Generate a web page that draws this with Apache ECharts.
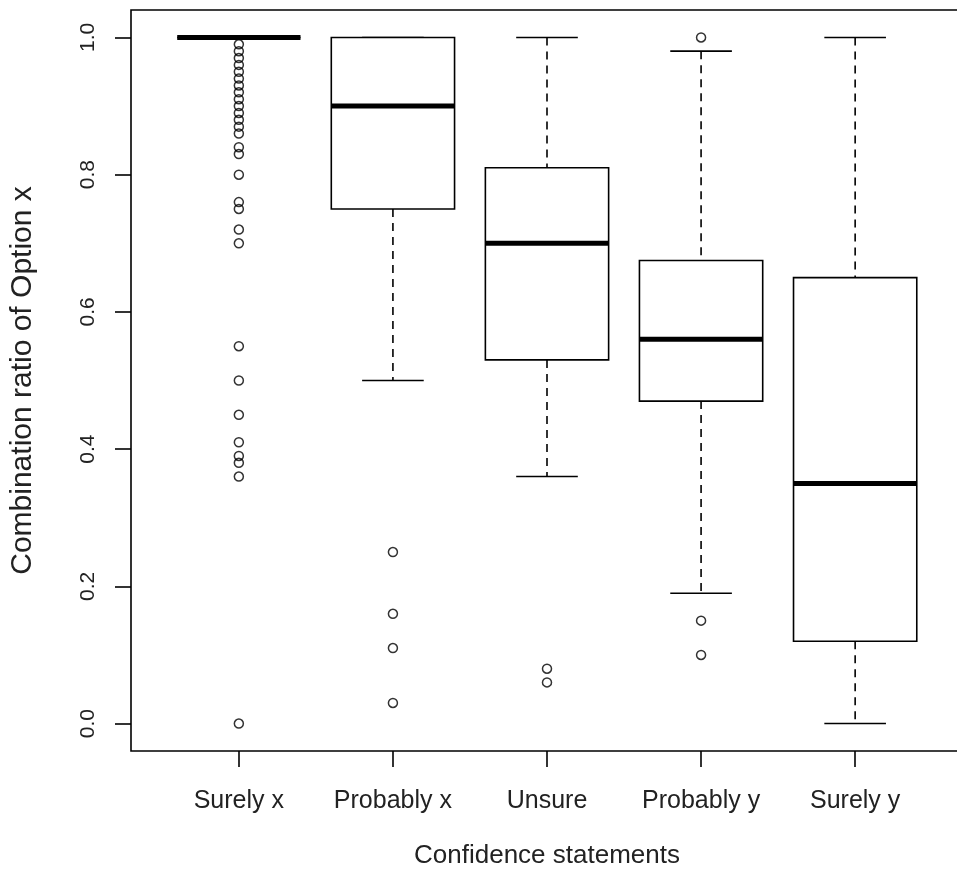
<!DOCTYPE html>
<html>
<head>
<meta charset="utf-8">
<title>Combination ratio boxplot</title>
<script src="https://cdn.jsdelivr.net/npm/echarts@6/dist/echarts.min.js"></script>
<style>
  html, body { margin: 0; padding: 0; background: #fff; }
  #chart { width: 957px; height: 877px; }
</style>
</head>
<body>
<div id="chart"></div>
<script>
// box statistics per confidence statement
const categories = ["Surely x", "Probably x", "Unsure", "Probably y", "Surely y"];
const lowerWhisker = [1.0, 0.5, 0.36, 0.19, 0.0];
const lowerQuartile = [1.0, 0.75, 0.53, 0.47, 0.12];
const medians = [1.0, 0.9, 0.7, 0.56, 0.35];
const upperQuartile = [1.0, 1.0, 0.81, 0.675, 0.65];
const upperWhisker = [1.0, 1.0, 1.0, 0.98, 1.0];

// outliers per category
const outliersSurelyX = [0.99, 0.98, 0.97, 0.96, 0.95, 0.94, 0.93, 0.92, 0.91, 0.90, 0.89, 0.88,
  0.87, 0.86, 0.84, 0.83, 0.80, 0.76, 0.75, 0.72, 0.70, 0.55, 0.50, 0.45, 0.41, 0.39, 0.38, 0.36, 0.0];
const outliersProbablyX = [0.25, 0.16, 0.11, 0.03];
const outliersUnsure = [0.08, 0.06];
const outliersProbablyY = [1.0, 0.15, 0.10];
const outliersSurelyY = [];

const yTicks = [0, 0.2, 0.4, 0.6, 0.8, 1.0];
const xTicks = [1, 2, 3, 4, 5];

const boxData = categories.map((c, i) => [
  i + 1, lowerWhisker[i], lowerQuartile[i], medians[i], upperQuartile[i], upperWhisker[i]
]);
const outlierData = [];
[outliersSurelyX, outliersProbablyX, outliersUnsure, outliersProbablyY, outliersSurelyY].forEach((arr, i) => {
  arr.forEach(v => outlierData.push([i + 1, v]));
});

const chart = echarts.init(document.getElementById("chart"));
const textColor = "#222";
const fontFamily = "Liberation Sans, Arial, sans-serif";

function renderBox(params, api) {
  const x = api.value(0);
  const lo = api.value(1), q1 = api.value(2), med = api.value(3), q3 = api.value(4), hi = api.value(5);
  const half = 0.4, cap = 0.2;
  const pTopLeft = api.coord([x - half, q3]);
  const pBotRight = api.coord([x + half, q1]);
  const pMedL = api.coord([x - half, med]);
  const pMedR = api.coord([x + half, med]);
  const pHi = api.coord([x, hi]);
  const pQ3 = api.coord([x, q3]);
  const pQ1 = api.coord([x, q1]);
  const pLo = api.coord([x, lo]);
  const capHiL = api.coord([x - cap, hi]);
  const capHiR = api.coord([x + cap, hi]);
  const capLoL = api.coord([x - cap, lo]);
  const capLoR = api.coord([x + cap, lo]);
  const solid = { stroke: "#000", lineWidth: 1.6, fill: null };
  const dashed = { stroke: "#000", lineWidth: 1.6, lineDash: [8, 6] };
  return {
    type: "group",
    children: [
      { type: "line", shape: { x1: pHi[0], y1: pHi[1], x2: pQ3[0], y2: pQ3[1] }, style: dashed },
      { type: "line", shape: { x1: pQ1[0], y1: pQ1[1], x2: pLo[0], y2: pLo[1] }, style: dashed },
      { type: "line", shape: { x1: capHiL[0], y1: capHiL[1], x2: capHiR[0], y2: capHiR[1] }, style: solid },
      { type: "line", shape: { x1: capLoL[0], y1: capLoL[1], x2: capLoR[0], y2: capLoR[1] }, style: solid },
      {
        type: "rect",
        shape: { x: pTopLeft[0], y: pTopLeft[1], width: pBotRight[0] - pTopLeft[0], height: pBotRight[1] - pTopLeft[1] },
        style: { stroke: "#000", lineWidth: 1.6, fill: "#fff" }
      },
      { type: "line", shape: { x1: pMedL[0], y1: pMedL[1], x2: pMedR[0], y2: pMedR[1] }, style: { stroke: "#000", lineWidth: 5 } }
    ]
  };
}

const option = {
  backgroundColor: "#fff",
  animation: false,
  grid: {
    left: 131,
    right: -6,
    top: 10,
    bottom: 126,
    outerBoundsMode: "none",
    containLabel: false,
    show: true,
    borderColor: "#000",
    borderWidth: 1.6,
    backgroundColor: "transparent"
  },
  xAxis: {
    type: "value",
    min: 0.3,
    max: 5.7,
    name: "Confidence statements",
    nameLocation: "middle",
    nameGap: 92,
    nameTextStyle: { color: textColor, fontSize: 26, fontFamily: fontFamily },
    axisLine: { show: false, onZero: false },
    splitLine: { show: false },
    axisTick: { show: true, length: 16, customValues: xTicks, lineStyle: { color: "#000", width: 1.6 } },
    axisLabel: {
      customValues: xTicks,
      margin: 38,
      color: textColor,
      fontSize: 25,
      fontFamily: fontFamily,
      formatter: v => categories[Math.round(v) - 1]
    }
  },
  yAxis: {
    type: "value",
    min: -0.04,
    max: 1.04,
    name: "Combination ratio of Option x",
    nameLocation: "middle",
    nameGap: 93,
    nameRotate: 90,
    nameTextStyle: { color: textColor, fontSize: 30, fontFamily: fontFamily },
    axisLine: { show: false, onZero: false },
    splitLine: { show: false },
    axisTick: { show: true, length: 16, customValues: yTicks, lineStyle: { color: "#000", width: 1.6 } },
    axisLabel: {
      customValues: yTicks,
      rotate: 90,
      margin: 32,
      color: textColor,
      fontSize: 21,
      fontFamily: fontFamily,
      formatter: v => v.toFixed(1)
    }
  },
  series: [
    {
      type: "custom",
      renderItem: renderBox,
      encode: { x: 0, y: [1, 2, 3, 4, 5] },
      data: boxData,
      z: 2
    },
    {
      type: "scatter",
      data: outlierData,
      symbol: "circle",
      symbolSize: 9,
      itemStyle: { color: "transparent", borderColor: "#000", borderWidth: 1.5 },
      z: 3
    }
  ]
};
chart.setOption(option);
window.addEventListener("resize", chart.resize);
</script>
</body>
</html>
